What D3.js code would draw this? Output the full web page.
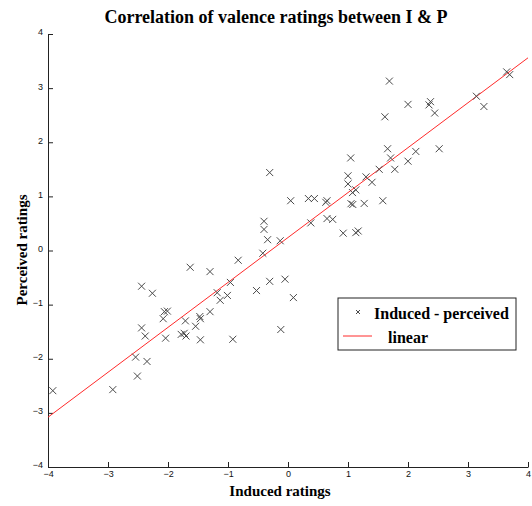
<!DOCTYPE html>
<html>
<head>
<meta charset="utf-8">
<script src="https://cdn.jsdelivr.net/npm/d3@7"></script>
<style>
  body { margin: 0; background: #fff; }
  svg { display: block; }
</style>
</head>
<body>
<div id="chart"></div>
<script>
// induced (x) vs perceived (y) valence ratings
const induced = [
  -3.92, -2.92, -2.51, -2.54, -2.35, -2.44, -2.26, -2.44, -2.38, -2.06,
  -2.01, -2.08, -2.04, -1.63, -1.30, -0.83, -0.42, -0.96, -1.18, -1.13,
  -1.01, -1.30, -1.47, -1.46, -1.71, -1.54, -1.78, -1.73, -1.70, -1.46,
  -0.92, -0.525, -0.305, -0.05, 0.09, -0.12, -0.13, -0.34, -0.40, -0.40,
  -0.305, 0.045, 0.34, 0.44, 0.63, 0.65, 0.38, 0.65, 0.745, 0.92,
  1.13, 1.17, 1.045, 1.00, 1.00, 1.075, 1.13, 1.05, 1.08, 1.27,
  1.30, 1.40, 1.52, 1.58, 1.66, 1.71, 1.78, 1.615, 1.69, 2.00,
  2.00, 2.13, 2.35, 2.375, 2.445, 2.52, 3.14, 3.265, 3.645, 3.695
];
const perceived = [
  -2.59, -2.57, -2.32, -1.97, -2.05, -0.66, -0.79, -1.43, -1.58, -1.13,
  -1.12, -1.26, -1.62, -0.31, -0.39, -0.18, -0.05, -0.59, -0.78, -0.92,
  -0.83, -1.13, -1.22, -1.26, -1.30, -1.40, -1.55, -1.53, -1.58, -1.65,
  -1.64, -0.74, -0.57, -0.53, -0.87, -1.46, 0.18, 0.20, 0.39, 0.54,
  1.44, 0.92, 0.96, 0.96, 0.89, 0.92, 0.51, 0.59, 0.575, 0.32,
  0.33, 0.36, 1.71, 1.38, 1.23, 1.07, 1.12, 0.865, 0.85, 0.87,
  1.36, 1.26, 1.50, 0.92, 1.88, 1.71, 1.50, 2.47, 3.13, 2.70,
  1.65, 1.83, 2.69, 2.75, 2.54, 1.88, 2.85, 2.66, 3.30, 3.25
];
// linear fit drawn across the full x range
const fitX = [-4, 4];
const fitSlope = 0.83;
const fitIntercept = 0.24;

const xTicks = [-4, -3, -2, -1, 0, 1, 2, 3, 4];
const yTicks = [-4, -3, -2, -1, 0, 1, 2, 3, 4];

const width = 532, height = 506;
const margin = { top: 34, right: 4, bottom: 39, left: 48 };
const serif = "Liberation Serif, Times New Roman, serif";

const svg = d3.select("#chart").append("svg")
  .attr("width", width)
  .attr("height", height);

const x = d3.scaleLinear().domain([-4, 4]).range([margin.left, width - margin.right]);
const y = d3.scaleLinear().domain([-4, 4]).range([height - margin.bottom, margin.top]);

// axes: ticks point inward, no box
const xAxis = d3.axisBottom(x).tickValues(xTicks).tickSizeInner(-5).tickSizeOuter(0).tickPadding(5);
const yAxis = d3.axisLeft(y).tickValues(yTicks).tickSizeInner(-5).tickSizeOuter(0).tickPadding(5);

const gx = svg.append("g")
  .attr("transform", `translate(0,${height - margin.bottom})`)
  .call(xAxis);
const gy = svg.append("g")
  .attr("transform", `translate(${margin.left},0)`)
  .call(yAxis);

[gx, gy].forEach((g) => {
  g.selectAll("path, line").attr("stroke", "#222");
  g.selectAll("text")
    .attr("font-family", "Liberation Sans, Arial, sans-serif")
    .attr("font-size", "9px")
    .attr("fill", "#111");
});
gx.selectAll("text").attr("dy", "0.6em");
gy.selectAll("text").attr("dy", "0.1em");

// fit line
const line = d3.line()
  .x((d) => x(d))
  .y((d) => y(fitSlope * d + fitIntercept));

svg.append("path")
  .datum(fitX)
  .attr("d", line)
  .attr("fill", "none")
  .attr("stroke", "#ff2a2a")
  .attr("stroke-width", 1);

// cross markers
const points = induced.map((v, i) => ({ x: v, y: perceived[i] }));
const cross = (s) => `M${-s},${-s}L${s},${s}M${-s},${s}L${s},${-s}`;

svg.append("g")
  .selectAll("path")
  .data(points)
  .join("path")
  .attr("transform", (d) => `translate(${x(d.x)},${y(d.y)})`)
  .attr("d", cross(3.5))
  .attr("fill", "none")
  .attr("stroke", "#4a4a4a")
  .attr("stroke-width", 1);

// title and axis labels
svg.append("text")
  .attr("x", 276)
  .attr("y", 23)
  .attr("text-anchor", "middle")
  .attr("font-family", serif)
  .attr("font-weight", "bold")
  .attr("font-size", "18px")
  .text("Correlation of valence ratings between I & P");

svg.append("text")
  .attr("x", 280)
  .attr("y", 496)
  .attr("text-anchor", "middle")
  .attr("font-family", serif)
  .attr("font-weight", "bold")
  .attr("font-size", "15px")
  .text("Induced ratings");

svg.append("text")
  .attr("transform", "translate(27,250) rotate(-90)")
  .attr("text-anchor", "middle")
  .attr("font-family", serif)
  .attr("font-weight", "bold")
  .attr("font-size", "15px")
  .text("Perceived ratings");

// legend
const legend = svg.append("g").attr("transform", "translate(338,298)");
legend.append("rect")
  .attr("width", 178)
  .attr("height", 52)
  .attr("fill", "#fff")
  .attr("stroke", "#222")
  .attr("stroke-width", 1);
legend.append("path")
  .attr("transform", "translate(20,14)")
  .attr("d", cross(2))
  .attr("fill", "none")
  .attr("stroke", "#4a4a4a");
legend.append("text")
  .attr("x", 36)
  .attr("y", 21)
  .attr("font-family", serif)
  .attr("font-weight", "bold")
  .attr("font-size", "16px")
  .text("Induced - perceived");
legend.append("line")
  .attr("x1", 5).attr("x2", 34)
  .attr("y1", 38).attr("y2", 38)
  .attr("stroke", "#ff2a2a");
legend.append("text")
  .attr("x", 50)
  .attr("y", 45)
  .attr("font-family", serif)
  .attr("font-weight", "bold")
  .attr("font-size", "16px")
  .text("linear");
</script>
</body>
</html>
